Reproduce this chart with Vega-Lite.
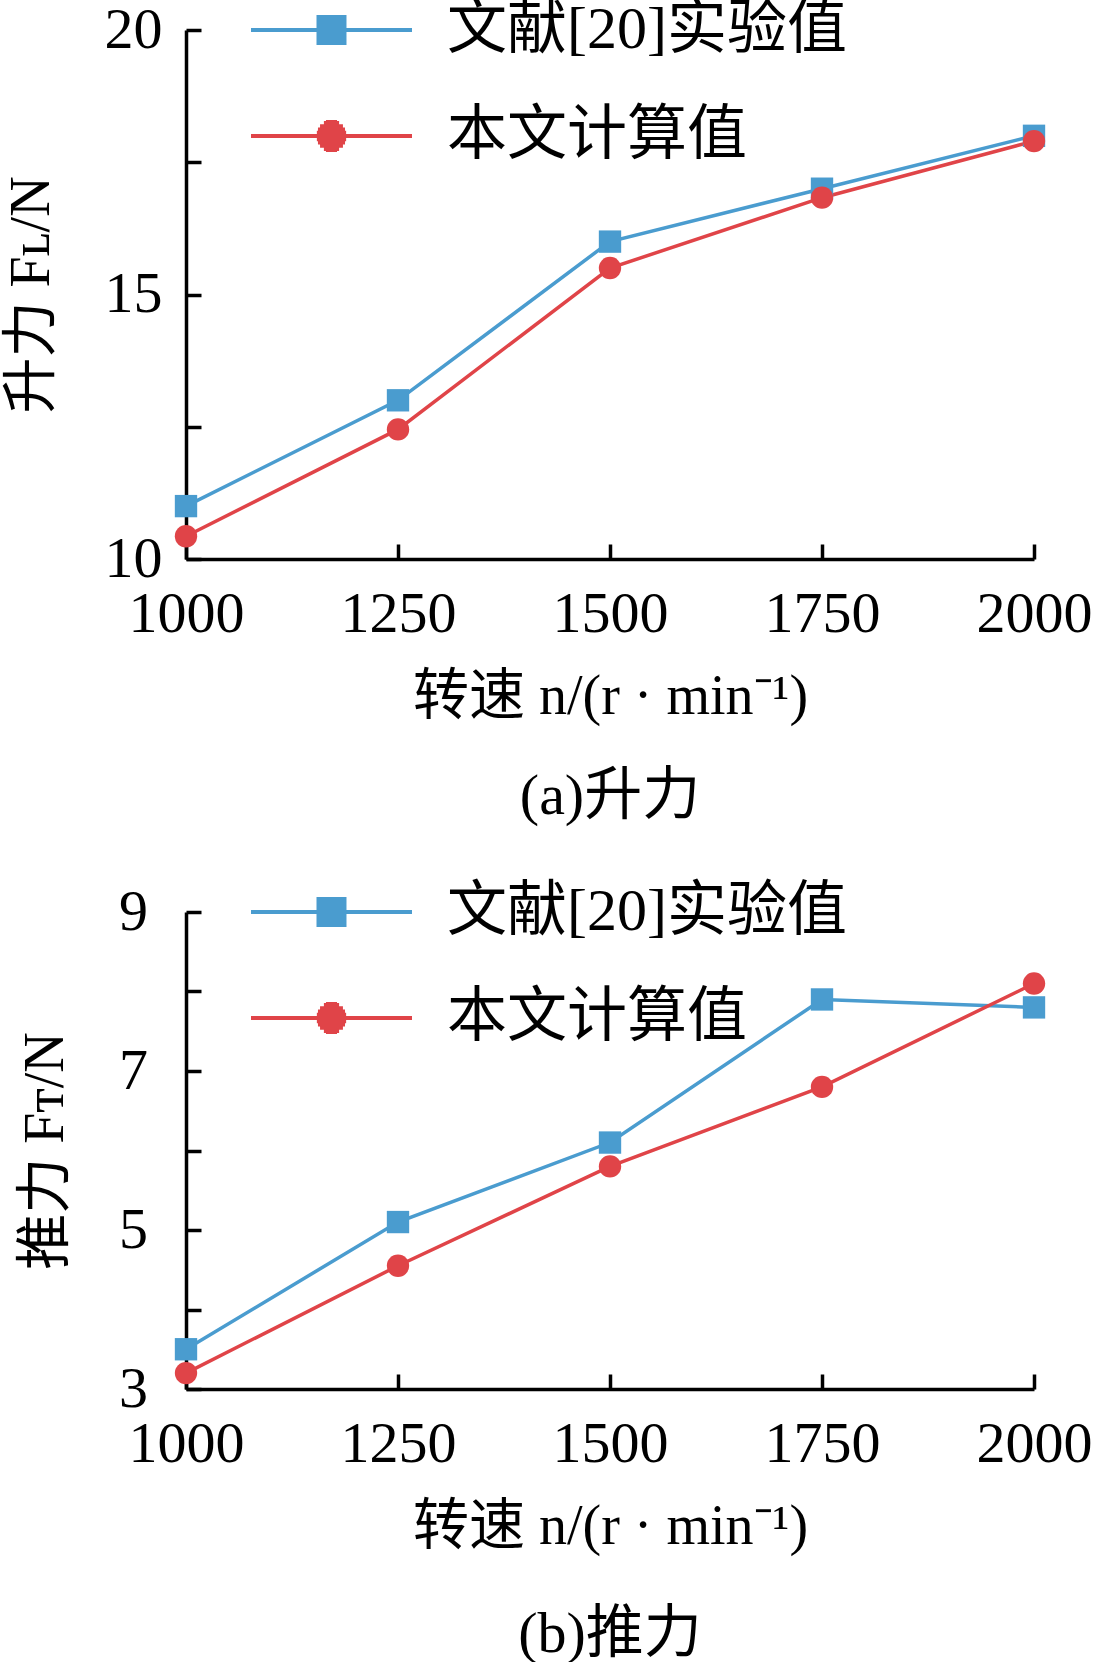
{
  "$schema": "https://vega.github.io/schema/vega-lite/v6.json",
  "background": "white",
  "padding": {"left": 3, "top": 0, "right": 0, "bottom": 0},
  "datasets": {
    "lift": [
      {"n": 1000, "F": 11.0, "series": "文献[20]实验值"},
      {"n": 1250, "F": 13.0, "series": "文献[20]实验值"},
      {"n": 1500, "F": 16.0, "series": "文献[20]实验值"},
      {"n": 1750, "F": 17.0, "series": "文献[20]实验值"},
      {"n": 2000, "F": 18.0, "series": "文献[20]实验值"},
      {"n": 1000, "F": 10.43, "series": "本文计算值"},
      {"n": 1250, "F": 12.45, "series": "本文计算值"},
      {"n": 1500, "F": 15.5, "series": "本文计算值"},
      {"n": 1750, "F": 16.83, "series": "本文计算值"},
      {"n": 2000, "F": 17.9, "series": "本文计算值"}
    ],
    "thrust": [
      {"n": 1000, "F": 3.5, "series": "文献[20]实验值"},
      {"n": 1250, "F": 5.1, "series": "文献[20]实验值"},
      {"n": 1500, "F": 6.1, "series": "文献[20]实验值"},
      {"n": 1750, "F": 7.9, "series": "文献[20]实验值"},
      {"n": 2000, "F": 7.8, "series": "文献[20]实验值"},
      {"n": 1000, "F": 3.2, "series": "本文计算值"},
      {"n": 1250, "F": 4.55, "series": "本文计算值"},
      {"n": 1500, "F": 5.8, "series": "本文计算值"},
      {"n": 1750, "F": 6.8, "series": "本文计算值"},
      {"n": 2000, "F": 8.1, "series": "本文计算值"}
    ]
  },
  "spacing": 56,
  "vconcat": [
    {
      "width": 848,
      "height": 529,
      "data": {"name": "lift"},
      "title": {"text": "(a)升力", "offset": 44},
      "encoding": {
        "x": {
          "field": "n",
          "type": "quantitative",
          "scale": {"domain": [1000, 2000], "nice": false},
          "axis": {"values": [1000, 1250, 1500, 1750, 2000], "format": "d", "title": "转速 n/(r · min⁻¹)"}
        },
        "y": {
          "field": "F",
          "type": "quantitative",
          "scale": {"domain": [10, 20], "nice": false, "zero": false},
          "axis": {
            "values": [10, 12.5, 15, 17.5, 20],
            "labelExpr": "datum.value % 5 === 0 ? datum.label : ''",
            "title": "升力 Fʟ/N"
          }
        }
      },
      "layer": [
        {
          "mark": {"type": "line", "strokeWidth": 3.5},
          "encoding": {
            "color": {
              "field": "series",
              "type": "nominal",
              "scale": {"domain": ["文献[20]实验值", "本文计算值"], "range": ["#4A9CCF", "#E04448"]},
              "legend": null
            }
          }
        },
        {
          "mark": {"type": "point", "filled": true, "opacity": 1, "size": 500},
          "encoding": {
            "color": {"field": "series", "type": "nominal", "legend": null},
            "shape": {
              "field": "series",
              "type": "nominal",
              "scale": {"domain": ["文献[20]实验值", "本文计算值"], "range": ["square", "circle"]},
              "legend": null
            }
          }
        },
        {
          "transform": [{"filter": {"field": "series", "equal": "文献[20]实验值"}}],
          "mark": {"type": "point", "filled": false, "opacity": 0, "color": "#4A9CCF", "strokeWidth": 4},
          "encoding": {
            "shape": {
              "field": "series",
              "type": "nominal",
              "scale": {
                "domain": ["文献[20]实验值"],
                "range": ["M-1,0H8.47M2.853,-0.76H4.617M2.853,-0.57H4.617M2.853,-0.38H4.617M2.853,-0.19H4.617M2.853,0H4.617M2.853,0.19H4.617M2.853,0.38H4.617M2.853,0.57H4.617M2.853,0.76H4.617"]
              },
              "legend": {"orient": "none", "legendX": 52, "legendY": -30, "labelOffset": 149}
            }
          }
        },
        {
          "transform": [{"filter": {"field": "series", "equal": "本文计算值"}}],
          "mark": {"type": "point", "filled": false, "opacity": 0, "color": "#E04448", "strokeWidth": 4},
          "encoding": {
            "shape": {
              "field": "series",
              "type": "nominal",
              "scale": {
                "domain": ["本文计算值"],
                "range": ["M-1,0H8.47M3.41,-0.82H4.06M3.288,-0.76H4.182M3.062,-0.57H4.408M2.939,-0.38H4.531M2.874,-0.19H4.596M2.853,0H4.617M2.874,0.19H4.596M2.939,0.38H4.531M3.062,0.57H4.408M3.288,0.76H4.182M3.41,0.82H4.06"]
              },
              "legend": {"orient": "none", "legendX": 52, "legendY": 76, "labelOffset": 149}
            }
          }
        }
      ],
      "resolve": {"scale": {"shape": "independent"}}
    },
    {
      "width": 848,
      "height": 477,
      "data": {"name": "thrust"},
      "title": {"text": "(b)推力", "offset": 52},
      "encoding": {
        "x": {
          "field": "n",
          "type": "quantitative",
          "scale": {"domain": [1000, 2000], "nice": false},
          "axis": {"values": [1000, 1250, 1500, 1750, 2000], "format": "d", "title": "转速 n/(r · min⁻¹)"}
        },
        "y": {
          "field": "F",
          "type": "quantitative",
          "scale": {"domain": [3, 9], "nice": false, "zero": false},
          "axis": {
            "values": [3, 4, 5, 6, 7, 8, 9],
            "labelExpr": "datum.value % 2 === 1 ? datum.label : ''",
            "title": "推力 Fᴛ/N"
          }
        }
      },
      "layer": [
        {
          "mark": {"type": "line", "strokeWidth": 3.5},
          "encoding": {
            "color": {
              "field": "series",
              "type": "nominal",
              "scale": {"domain": ["文献[20]实验值", "本文计算值"], "range": ["#4A9CCF", "#E04448"]},
              "legend": null
            }
          }
        },
        {
          "mark": {"type": "point", "filled": true, "opacity": 1, "size": 500},
          "encoding": {
            "color": {"field": "series", "type": "nominal", "legend": null},
            "shape": {
              "field": "series",
              "type": "nominal",
              "scale": {"domain": ["文献[20]实验值", "本文计算值"], "range": ["square", "circle"]},
              "legend": null
            }
          }
        },
        {
          "transform": [{"filter": {"field": "series", "equal": "文献[20]实验值"}}],
          "mark": {"type": "point", "filled": false, "opacity": 0, "color": "#4A9CCF", "strokeWidth": 4},
          "encoding": {
            "shape": {
              "field": "series",
              "type": "nominal",
              "scale": {
                "domain": ["文献[20]实验值"],
                "range": ["M-1,0H8.47M2.853,-0.76H4.617M2.853,-0.57H4.617M2.853,-0.38H4.617M2.853,-0.19H4.617M2.853,0H4.617M2.853,0.19H4.617M2.853,0.38H4.617M2.853,0.57H4.617M2.853,0.76H4.617"]
              },
              "legend": {"orient": "none", "legendX": 52, "legendY": -30, "labelOffset": 149}
            }
          }
        },
        {
          "transform": [{"filter": {"field": "series", "equal": "本文计算值"}}],
          "mark": {"type": "point", "filled": false, "opacity": 0, "color": "#E04448", "strokeWidth": 4},
          "encoding": {
            "shape": {
              "field": "series",
              "type": "nominal",
              "scale": {
                "domain": ["本文计算值"],
                "range": ["M-1,0H8.47M3.41,-0.82H4.06M3.288,-0.76H4.182M3.062,-0.57H4.408M2.939,-0.38H4.531M2.874,-0.19H4.596M2.853,0H4.617M2.874,0.19H4.596M2.939,0.38H4.531M3.062,0.57H4.408M3.288,0.76H4.182M3.41,0.82H4.06"]
              },
              "legend": {"orient": "none", "legendX": 52, "legendY": 76, "labelOffset": 149}
            }
          }
        }
      ],
      "resolve": {"scale": {"shape": "independent"}}
    }
  ],
  "resolve": {"scale": {"y": "independent"}},
  "config": {
    "font": "Liberation Serif, Noto Sans CJK SC",
    "view": {"stroke": null},
    "axis": {
      "grid": false,
      "domainColor": "black",
      "domainWidth": 3.5,
      "tickColor": "black",
      "tickWidth": 3.5,
      "tickSize": -15,
      "labelColor": "black",
      "labelFont": "Liberation Serif",
      "labelFontSize": 58,
      "titleColor": "black",
      "titleFont": "Liberation Serif, Noto Sans CJK SC",
      "titleFontSize": 56,
      "titleFontWeight": "normal"
    },
    "axisX": {"labelPadding": 41, "titlePadding": 26, "labelFlush": false, "labelOverlap": false},
    "axisY": {"labelPadding": 68, "labelAlign": "center", "titlePadding": 44},
    "title": {"fontSize": 58, "fontWeight": "normal", "orient": "bottom", "anchor": "middle", "color": "black", "font": "Liberation Serif, Noto Sans CJK SC"},
    "legend": {
      "title": null,
      "padding": 0,
      "symbolSize": 1156,
      "symbolStrokeWidth": 4,
      "labelFont": "Liberation Serif, Noto Sans CJK SC",
      "labelFontSize": 60,
      "labelColor": "black",
      "labelLimit": 0,
      "symbolOpacity": 1
    }
  }
}
